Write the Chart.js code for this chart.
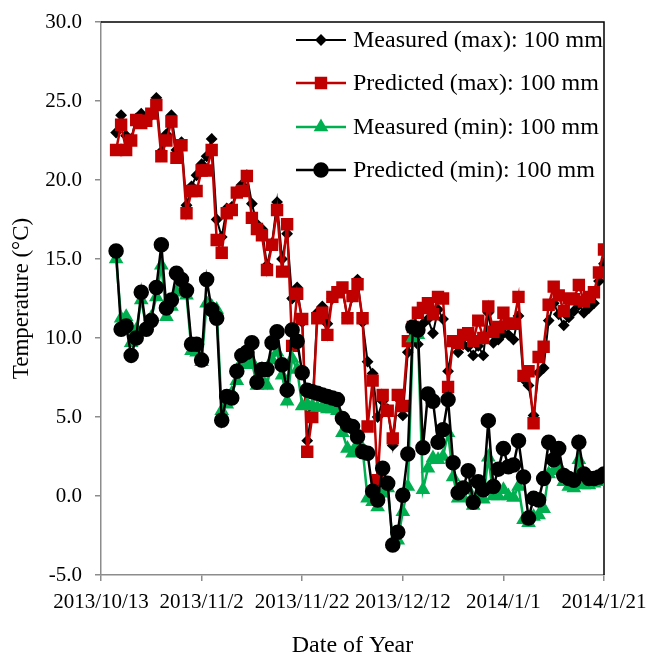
<!DOCTYPE html>
<html>
<head>
<meta charset="utf-8">
<script src="https://cdn.jsdelivr.net/npm/chart.js@4.4.1/dist/chart.umd.min.js"></script>
<style>
  html, body { margin: 0; padding: 0; background: #fff; }
  #wrap { width: 649px; height: 655px; }
</style>
</head>
<body>
<div id="wrap"><canvas id="chart" width="649" height="655"></canvas></div>
<script>
// x axis: days after 2013/10/13, one value per day starting at day 3
const firstDay = 3;
const tickLabels = ["2013/10/13", "2013/11/2", "2013/11/22", "2013/12/12", "2014/1/1", "2014/1/21"];
const seriesNames = [
    "Measured (max): 100 mm",
    "Predicted (max): 100 mm",
    "Measured (min): 100 mm",
    "Predicted (min): 100 mm"
];

const measuredMax = [
    23.0, 24.1, 22.8, 22.6, 23.9, 24.2, 23.8, 24.1, 25.2, 21.8,
    22.9, 24.1, 21.9, 22.4, 18.4, 19.6, 20.3, 21.0, 21.5, 22.6,
    17.5, 16.4, 18.2, 18.3, 19.3, 19.7, 20.3, 18.5, 17.2, 16.9,
    14.6, 16.0, 18.6, 15.0, 16.6, 12.5, 13.2, 11.0, 3.5, 5.5,
    11.6, 12.0, 10.9, 12.5, 12.9, 13.0, 11.3, 12.6, 13.7, 11.0,
    8.5, 7.75, 5.0, 6.0, 5.5, 3.2, 6.2, 5.1, 9.1, 10.6,
    9.6, 10.9, 11.2, 10.3, 11.8, 11.2, 7.9, 9.7, 9.1, 9.6,
    9.45, 8.9, 9.5, 8.9, 11.6, 9.7, 9.9, 10.3, 10.2, 9.9,
    11.4, 7.4, 7.0, 5.1, 7.8, 8.1, 11.1, 12.2, 11.5, 10.8,
    11.3, 11.7, 12.1, 11.6, 11.9, 12.2, 13.6, 14.7
];
const predictedMax = [
    21.9, 23.5, 21.9, 22.5, 23.8, 23.6, 23.75, 24.2, 24.75, 21.5,
    22.5, 23.7, 21.4, 22.2, 17.9, 19.3, 19.3, 20.6, 20.6, 21.9,
    16.2, 15.4, 17.9, 18.1, 19.2, 19.3, 20.25, 17.6, 16.9, 16.5,
    14.3, 15.9, 18.1, 14.2, 17.2, 9.5, 12.8, 11.2, 2.8, 5.0,
    11.25, 11.6, 10.2, 12.6, 12.9, 13.2, 11.25, 12.65, 13.4, 11.25,
    4.4, 7.3, 1.0, 6.4, 5.4, 3.65, 6.4, 5.7, 9.8, 10.7,
    11.6, 11.9, 12.2, 11.5, 12.6, 12.5, 6.9, 9.8, 9.7, 10.2,
    10.3, 9.8, 11.1, 10.0, 12.0, 10.4, 10.7, 11.6, 10.9, 10.9,
    12.6, 7.6, 7.9, 4.6, 8.8, 9.45, 12.1, 13.25, 12.7, 11.7,
    12.5, 12.45, 13.35, 12.3, 12.6, 12.9, 14.15, 15.6
];
const measuredMin = [
    15.0, 11.25, 11.35, 9.7, 10.5, 12.4, 10.7, 11.3, 12.6, 14.6,
    11.35, 12.0, 12.9, 13.0, 12.7, 9.2, 9.1, 8.5, 12.2, 12.0,
    11.8, 5.4, 5.8, 6.5, 7.3, 8.5, 8.3, 8.5, 7.0, 8.0,
    7.0, 8.6, 9.1, 7.65, 6.0, 8.7, 8.0, 5.7, 5.8, 5.7,
    5.6, 5.6, 5.5, 5.5, 5.4, 4.0, 3.0, 2.7, 3.3, 3.0,
    -0.15, -0.36, -0.7, 0.17, 0.5, -3.0, -2.8, -1.0, 0.6, 10.0,
    10.2, 0.4, 1.75, 2.4, 2.3, 2.5, 4.0, 1.2, -0.15, -0.1,
    0.4, -0.6, -0.1, -0.2, 2.45, 0.0, 0.0, 0.4, 0.0, -0.1,
    0.6, -1.5, -1.7, -1.3, -1.2, -0.8, 1.4, 1.6, 1.9, 0.9,
    0.6, 0.5, 2.3, 0.7, 0.7, 0.8, 0.9, 1.1
];
const predictedMin = [
    15.5, 10.55, 10.76, 8.9, 10.0, 12.9, 10.55, 11.1, 13.2, 15.9,
    11.9, 12.4, 14.1, 13.7, 13.0, 9.6, 9.6, 8.6, 13.7, 11.8,
    11.25, 4.8, 6.3, 6.2, 7.9, 8.9, 9.1, 9.7, 7.2, 8.0,
    8.0, 9.7, 10.4, 8.3, 6.7, 10.5, 9.8, 7.8, 6.7, 6.6,
    6.5, 6.4, 6.3, 6.2, 6.1, 4.9, 4.5, 4.4, 3.75, 2.8,
    2.7, 0.3, -0.25, 1.75, 0.8, -3.1, -2.3, 0.05, 2.66, 10.7,
    10.5, 3.06, 6.45, 6.0, 3.4, 4.2, 6.1, 2.1, 0.2, 0.5,
    1.6, -0.4, 0.9, 0.4, 4.77, 0.6, 1.7, 3.0, 1.85, 1.96,
    3.5, 1.2, -1.4, -0.15, -0.25, 1.1, 3.4, 2.3, 3.0, 1.3,
    1.1, 1.0, 3.4, 1.4, 1.1, 1.1, 1.2, 1.4
];

const FONT = "'Liberation Serif', 'Times New Roman', serif";
const AXIS_GREY = "#8c8c8c";

function toPoints(values) {
    return values.map((v, i) => ({ x: firstDay + i, y: v }));
}

// fixed axis boxes, no extra room for overhanging labels
function fixBox(size) {
    return (s) => {
        if (s.isHorizontal()) s.height = size; else s.width = size;
        s.paddingLeft = s.paddingRight = s.paddingTop = s.paddingBottom = 0;
    };
}

// top and right frame lines are black in the original
const frame = {
    id: "frame",
    beforeDatasetsDraw(chart) {
        const { ctx, chartArea: a } = chart;
        ctx.save();
        ctx.strokeStyle = "#000";
        ctx.lineWidth = 1.5;
        ctx.beginPath();
        ctx.moveTo(a.left, a.top);
        ctx.lineTo(a.right, a.top);
        ctx.lineTo(a.right, a.bottom);
        ctx.stroke();
        ctx.restore();
    }
};

// legend drawn as line + marker samples, like the spreadsheet one
const lineLegend = {
    id: "lineLegend",
    afterDraw(chart) {
        const ctx = chart.ctx;
        const rowsY = [40, 83, 127, 170];
        ctx.save();
        chart.data.datasets.forEach((ds, i) => {
            const y = rowsY[i];
            ctx.strokeStyle = ds.borderColor;
            ctx.lineWidth = ds.borderWidth;
            ctx.beginPath();
            ctx.moveTo(296, y);
            ctx.lineTo(346, y);
            ctx.stroke();
            ctx.fillStyle = ds.pointBackgroundColor;
            ctx.strokeStyle = ds.pointBorderColor;
            Chart.helpers.drawPoint(ctx, {
                pointStyle: ds.pointStyle,
                radius: ds.pointRadius,
                borderWidth: 1,
                rotation: 0
            }, 321, y);
            ctx.fillStyle = "#000";
            ctx.font = "24px " + FONT;
            ctx.textBaseline = "middle";
            ctx.textAlign = "left";
            ctx.fillText(ds.label, 353, y + 1);
        });
        ctx.restore();
    }
};

const ctx = document.getElementById("chart").getContext("2d");

new Chart(ctx, {
    type: "line",
    data: {
        datasets: [
            {
                label: seriesNames[0],
                data: toPoints(measuredMax),
                borderColor: "#000000",
                borderWidth: 2,
                pointStyle: "rectRot",
                pointRadius: 4.5,
                pointBackgroundColor: "#000000",
                pointBorderColor: "#000000",
                order: 4
            },
            {
                label: seriesNames[1],
                data: toPoints(predictedMax),
                borderColor: "#C00000",
                borderWidth: 2.5,
                pointStyle: "rect",
                pointRadius: 7,
                pointBackgroundColor: "#C00000",
                pointBorderColor: "#C00000",
                order: 3
            },
            {
                label: seriesNames[2],
                data: toPoints(measuredMin),
                borderColor: "#00B050",
                borderWidth: 2.5,
                pointStyle: "triangle",
                pointRadius: 6,
                pointBackgroundColor: "#00B050",
                pointBorderColor: "#00B050",
                order: 2
            },
            {
                label: seriesNames[3],
                data: toPoints(predictedMin),
                borderColor: "#000000",
                borderWidth: 2.5,
                pointStyle: "circle",
                pointRadius: 6.5,
                pointBackgroundColor: "#000000",
                pointBorderColor: "#000000",
                order: 1
            }
        ]
    },
    options: {
        responsive: false,
        animation: false,
        devicePixelRatio: 1,
        layout: { padding: { top: 22, right: 45, left: 0, bottom: 0 } },
        elements: { line: { tension: 0 } },
        plugins: {
            legend: { display: false },
            tooltip: { enabled: false }
        },
        scales: {
            x: {
                type: "linear",
                min: 0,
                max: 100,
                afterFit: fixBox(80),
                ticks: {
                    stepSize: 20,
                    color: "#000",
                    font: { family: FONT, size: 21 },
                    padding: 9,
                    maxRotation: 0,
                    autoSkip: false,
                    callback: (v) => tickLabels[v / 20]
                },
                grid: { drawOnChartArea: false, tickLength: 6, color: AXIS_GREY, lineWidth: 1.5 },
                border: { color: AXIS_GREY, width: 1.5 },
                title: {
                    display: true,
                    text: "Date of Year",
                    color: "#000",
                    font: { family: FONT, size: 24, lineHeight: 1 },
                    padding: { top: 0, bottom: -3 }
                }
            },
            y: {
                min: -5,
                max: 30,
                afterFit: fixBox(101),
                ticks: {
                    stepSize: 5,
                    color: "#000",
                    font: { family: FONT, size: 21 },
                    padding: 13,
                    callback: (v) => v.toFixed(1)
                },
                grid: { drawOnChartArea: false, tickLength: 6, color: AXIS_GREY, lineWidth: 1.5 },
                border: { color: AXIS_GREY, width: 1.5 },
                title: {
                    display: true,
                    text: "Temperature (°C)",
                    color: "#000",
                    font: { family: FONT, size: 23, lineHeight: 1 },
                    padding: { top: 10, bottom: 0 }
                }
            }
        }
    },
    plugins: [frame, lineLegend]
});
</script>
</body>
</html>
